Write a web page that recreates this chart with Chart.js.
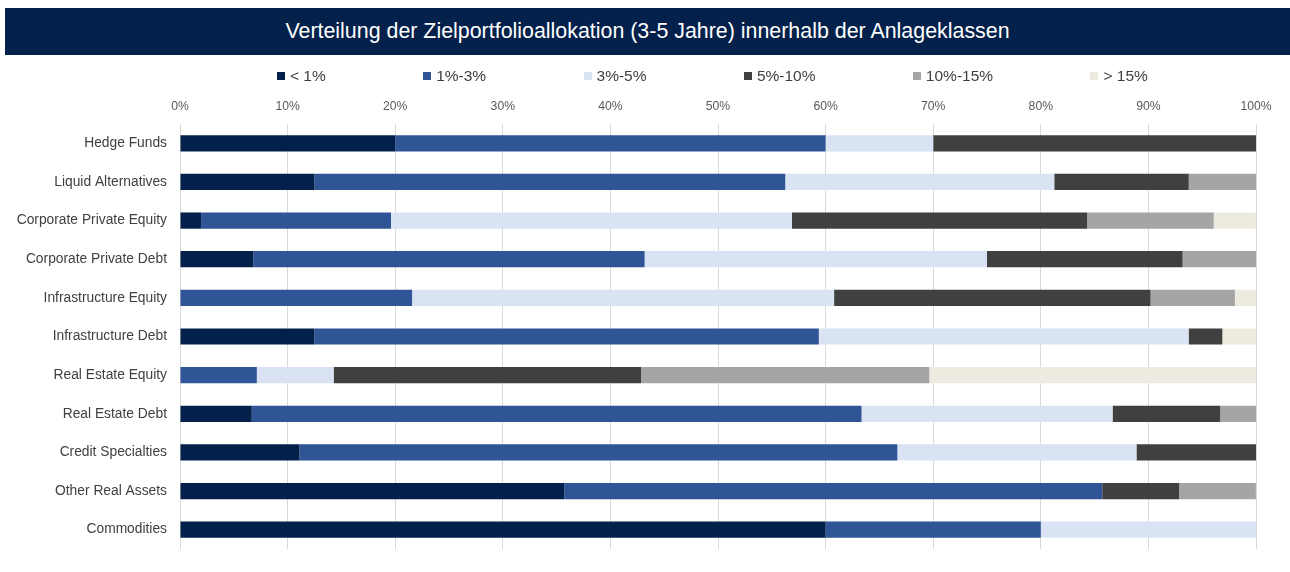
<!DOCTYPE html>
<html>
<head>
<meta charset="utf-8">
<script src="https://cdn.jsdelivr.net/npm/chart.js@4.4.1/dist/chart.umd.min.js"></script>
<style>
    body { margin: 0; background: #ffffff; font-family: "Liberation Sans", Arial, sans-serif; }
    #wrap { position: relative; width: 1290px; height: 572px; overflow: hidden; }
    #title {
        position: absolute; left: 5px; top: 8px; width: 1285px; height: 47px;
        background: #03214a; color: #ffffff; font-size: 21.4px; line-height: 47px; text-align: center;
    }
    #legend { position: absolute; left: 277px; top: 66px; height: 20px; display: flex; white-space: nowrap; }
    .legend-item { margin-right: 97.4px; display: flex; align-items: center; font-size: 15.5px; color: #404040; }
    .legend-box { width: 8px; height: 8px; margin-right: 5px; }
    #chartCanvas { position: absolute; left: 0; top: 0; }
</style>
</head>
<body>
<div id="wrap">
    <canvas id="chartCanvas" width="1290" height="572"></canvas>
    <div id="title">Verteilung der Zielportfolioallokation (3-5 Jahre) innerhalb der Anlageklassen</div>
    <div id="legend"></div>
</div>
<script>
// --- DADOS ---
const categories = ['Hedge Funds', 'Liquid Alternatives', 'Corporate Private Equity', 'Corporate Private Debt',
    'Infrastructure Equity', 'Infrastructure Debt', 'Real Estate Equity', 'Real Estate Debt',
    'Credit Specialties', 'Other Real Assets', 'Commodities'];
const seriesNames = ['< 1%', '1%-3%', '3%-5%', '5%-10%', '10%-15%', '> 15%'];
const seriesColors = ['#03204a', '#2f5597', '#dae3f3', '#404040', '#a5a5a5', '#edebe0'];

const under1 = [20, 12.5, 1.96, 6.82, 0, 12.5, 0, 6.67, 11.11, 35.71, 60];
const from1to3 = [40, 43.75, 17.65, 36.36, 21.57, 46.87, 7.14, 56.67, 55.56, 50, 20];
const from3to5 = [10, 25, 37.25, 31.82, 39.22, 34.37, 7.14, 23.33, 22.22, 0, 20];
const from5to10 = [30, 12.5, 27.45, 18.18, 29.41, 3.13, 28.57, 10, 11.11, 7.14, 0];
const from10to15 = [0, 6.25, 11.76, 6.82, 7.84, 0, 26.79, 3.33, 0, 7.14, 0];
const over15 = [0, 0, 3.92, 0, 1.96, 3.13, 30.36, 0, 0, 0, 0];

const tickLabels = ['0%', '10%', '20%', '30%', '40%', '50%', '60%', '70%', '80%', '90%', '100%'];

const allSeries = [under1, from1to3, from3to5, from5to10, from10to15, over15];

// --- LEGENDA ---
const legendEl = document.getElementById('legend');
seriesNames.forEach((name, i) => {
    const item = document.createElement('div');
    item.className = 'legend-item';
    const box = document.createElement('span');
    box.className = 'legend-box';
    box.style.background = seriesColors[i];
    item.appendChild(box);
    item.appendChild(document.createTextNode(name));
    legendEl.appendChild(item);
});

// --- GRÁFICO ---
const datasets = allSeries.map((data, i) => ({
    label: seriesNames[i],
    data: data,
    backgroundColor: seriesColors[i],
    borderWidth: 0,
    barPercentage: 0.42,
    categoryPercentage: 1
}));

new Chart(document.getElementById('chartCanvas').getContext('2d'), {
    type: 'bar',
    data: { labels: categories, datasets: datasets },
    options: {
        indexAxis: 'y',
        responsive: false,
        animation: false,
        layout: { padding: { left: 0, right: 34, top: 90, bottom: 23 } },
        plugins: { legend: { display: false }, title: { display: false }, tooltip: { enabled: false } },
        scales: {
            x: {
                position: 'top',
                stacked: true,
                min: 0,
                max: 100,
                border: { display: false },
                grid: { color: '#d9d9d9', lineWidth: 1, drawTicks: false },
                ticks: {
                    stepSize: 10,
                    padding: 10,
                    color: '#595959',
                    font: { family: 'Liberation Sans', size: 12.2 },
                    callback: (value) => tickLabels[Math.round(value / 10)]
                },
                afterFit: (scale) => { scale.height = 34; }
            },
            y: {
                stacked: true,
                border: { display: false },
                grid: { display: false, drawTicks: false },
                ticks: {
                    padding: 13,
                    color: '#404040',
                    font: { family: 'Liberation Sans', size: 13.8 }
                },
                afterFit: (scale) => { scale.width = 180; }
            }
        }
    }
});
</script>
</body>
</html>
